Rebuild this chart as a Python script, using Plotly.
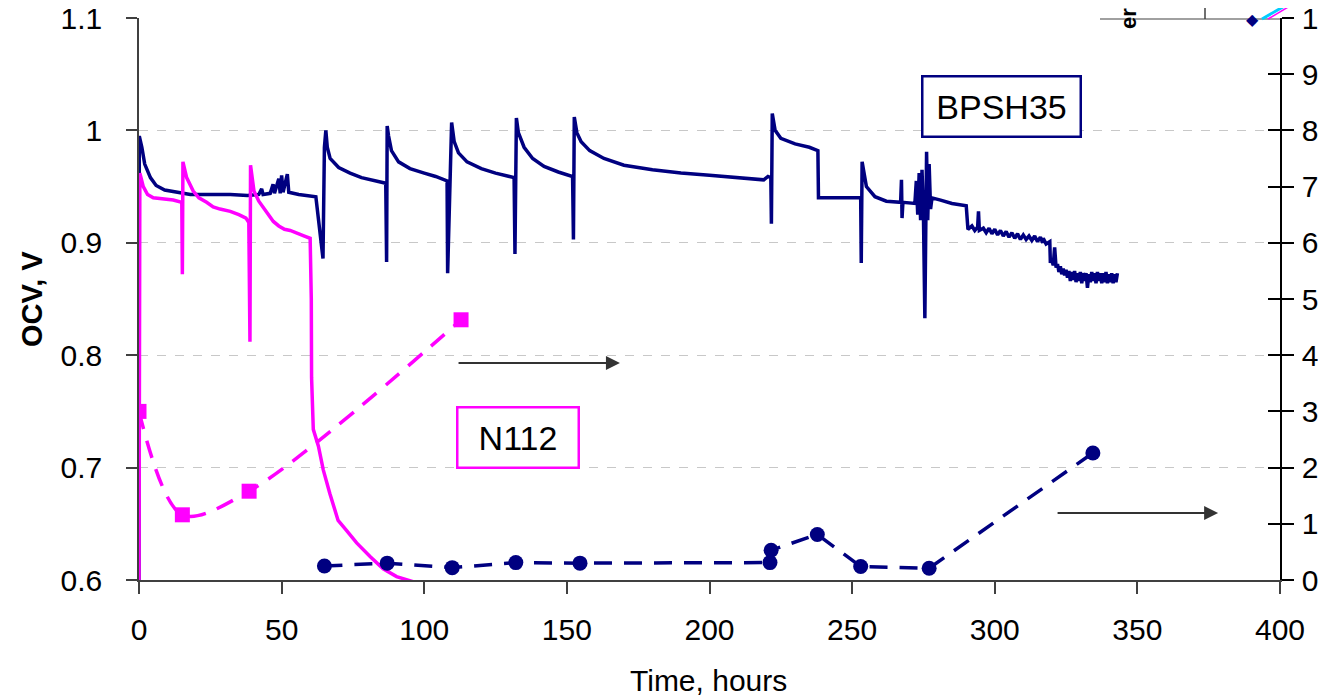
import plotly.graph_objects as go

# OCV trace, BPSH35 cell (hours, V)
bpsh_t = [0, 0.1, 1, 2, 4, 6, 9, 13, 18, 25, 32, 38, 42, 43, 43.5, 46, 47, 47.5, 49, 49.5,
          50, 50.5, 52, 52.5, 56, 62, 64.5, 65, 65.5, 66, 67, 70, 74, 78, 82, 86.5, 86.8, 87,
          87.5, 88.5, 91, 95, 100, 104, 108, 108.2, 109.6, 110.5, 112, 115, 120, 125, 131.5,
          131.8, 132.3, 133, 135, 138, 142, 147, 152, 152.3, 152.6, 153.5, 155, 158, 163, 170,
          180, 190, 200, 210, 219, 220.5, 221.5, 221.7, 222, 223, 225, 230, 235, 238, 238.2,
          245, 253, 253.2, 253.5, 255, 258, 262, 267, 267.3, 267.5, 267.8, 272, 272.5, 273,
          273.5, 274, 274.5, 275, 275.5, 276.1, 276.5, 277, 277.5, 278, 281, 285, 290, 290.6,
          292, 293, 294, 294.3, 294.6, 296, 297, 298, 299, 300, 301, 302, 303, 304, 305, 306,
          307, 308, 309, 310, 311, 312, 313, 314, 315, 316, 316.8, 317, 318, 319.3, 319.5,
          319.8, 320.5, 321, 321.5, 322, 322.5, 323, 323.5, 324, 324.5, 325, 325.5, 326, 326.5,
          327, 327.5, 328, 328.5, 329, 329.5, 330, 330.5, 331, 331.5, 332, 332.5, 333, 333.5,
          334, 334.5, 335, 335.5, 336, 336.5, 337, 337.5, 338, 338.5, 339, 339.5, 340, 340.5,
          341, 341.5, 342, 342.5, 343]
bpsh_v = [0.600, 0.995, 0.985, 0.970, 0.958, 0.951, 0.947, 0.945, 0.943, 0.943, 0.943, 0.942,
          0.943, 0.948, 0.943, 0.944, 0.952, 0.944, 0.957, 0.944, 0.960, 0.945, 0.961, 0.945,
          0.943, 0.941, 0.886, 0.985, 1.000, 0.985, 0.975, 0.967, 0.962, 0.958, 0.956, 0.953,
          0.883, 1.004, 0.995, 0.982, 0.972, 0.966, 0.962, 0.959, 0.955, 0.873, 1.007, 0.990,
          0.980, 0.972, 0.966, 0.962, 0.958, 0.890, 1.011, 0.998, 0.985, 0.975, 0.968, 0.963,
          0.959, 0.903, 1.012, 0.998, 0.990, 0.982, 0.975, 0.969, 0.965, 0.962, 0.960, 0.958,
          0.956, 0.959, 0.958, 0.917, 1.015, 1.000, 0.993, 0.988, 0.985, 0.982, 0.940, 0.940,
          0.940, 0.882, 0.972, 0.950, 0.941, 0.937, 0.936, 0.956, 0.922, 0.936, 0.935, 0.955,
          0.925, 0.962, 0.920, 0.965, 0.925, 0.833, 0.981, 0.920, 0.970, 0.930, 0.940, 0.938,
          0.935, 0.933, 0.912, 0.915, 0.911, 0.914, 0.928, 0.911, 0.913, 0.909, 0.913, 0.908,
          0.912, 0.907, 0.911, 0.906, 0.910, 0.905, 0.909, 0.904, 0.908, 0.903, 0.907, 0.903,
          0.906, 0.902, 0.906, 0.901, 0.905, 0.900, 0.904, 0.899, 0.901, 0.882, 0.886, 0.880,
          0.896, 0.878, 0.881, 0.874, 0.879, 0.872, 0.877, 0.871, 0.876, 0.869, 0.875, 0.866,
          0.874, 0.867, 0.875, 0.865, 0.873, 0.866, 0.874, 0.864, 0.873, 0.866, 0.873, 0.860,
          0.872, 0.865, 0.874, 0.866, 0.873, 0.864, 0.874, 0.866, 0.873, 0.864, 0.873, 0.865,
          0.874, 0.864, 0.872, 0.865, 0.873, 0.864, 0.872, 0.865, 0.873, 0.864, 0.872, 0.865,
          0.873, 0.864, 0.872, 0.866]

# OCV trace, N112 cell
n112_t = [0, 0.3, 1.5, 3, 5, 8.5, 12, 15, 15.2, 15.4, 16.7, 19, 21, 23.7, 26, 28.4, 32, 35,
          37.5, 38.5, 38.9, 39.1, 40.3, 42, 43.6, 45.5, 47.1, 49, 51, 53, 55.3, 58, 60, 60.4,
          60.5, 61.1, 62.9, 64.6, 66.9, 69.8, 72.8, 76.3, 81, 85.6, 90.3, 94, 98]
n112_v = [0.600, 0.962, 0.950, 0.943, 0.940, 0.939, 0.938, 0.936, 0.872, 0.972, 0.958, 0.946,
          0.940, 0.936, 0.932, 0.930, 0.928, 0.925, 0.922, 0.918, 0.812, 0.969, 0.946, 0.937,
          0.931, 0.925, 0.919, 0.915, 0.912, 0.911, 0.909, 0.906, 0.904, 0.850, 0.780, 0.734,
          0.719, 0.698, 0.677, 0.653, 0.644, 0.633, 0.621, 0.610, 0.603, 0.600, 0.597]

# right-axis series (markers)
n112_pts_t = [0, 15.2, 38.6, 112.9]
n112_pts_v = [3.0, 1.16, 1.58, 4.63]

bpsh_pts_t = [65, 87, 109.8, 132.1, 154.6, 221.2, 221.6, 237.8, 253, 277, 334.4]
bpsh_pts_v = [0.25, 0.30, 0.22, 0.31, 0.30, 0.31, 0.53, 0.81, 0.24, 0.21, 2.26]

NAVY = "#000080"
MAG = "#FF00FF"
FONT = "Liberation Sans, Arial, sans-serif"

fig = go.Figure()

fig.add_trace(go.Scatter(x=bpsh_pts_t, y=bpsh_pts_v, yaxis="y2", mode="lines+markers",
                         line=dict(color=NAVY, width=3.5, dash="18px,12px"),
                         marker=dict(symbol="circle", size=15, color=NAVY)))
fig.add_trace(go.Scatter(x=n112_pts_t, y=n112_pts_v, yaxis="y2", mode="lines+markers",
                         line=dict(color=MAG, width=3.5, dash="18px,12px", shape="spline", smoothing=0.9),
                         marker=dict(symbol="square", size=15, color=MAG)))
fig.add_trace(go.Scatter(x=bpsh_t, y=bpsh_v, mode="lines", line=dict(color=NAVY, width=3.5)))
fig.add_trace(go.Scatter(x=n112_t, y=n112_v, mode="lines", line=dict(color=MAG, width=3.5)))
fig.add_trace(go.Scatter(x=[], y=[], yaxis="y3"))

# the page body adds an 8px offset, so the figure is laid out 8px smaller
PW, PH = 1141, 562  # plot area in pixels
px_x = lambda p: (p - 139) / PW
px_y = lambda p: (580 - p) / PH

annotations = [
    dict(x=302.5, y=1.0213, xref="x", yref="y", text="BPSH35", showarrow=False,
         font=dict(size=34, color="black", family=FONT), bordercolor=NAVY, borderwidth=2.5,
         borderpad=1, width=154, height=56, bgcolor="white"),
    dict(x=133.0, y=0.7268, xref="x", yref="y", text="N112", showarrow=False,
         font=dict(size=34, color="black", family=FONT), bordercolor=MAG, borderwidth=2.5,
         borderpad=1, width=117, height=56, bgcolor="white"),
    dict(x=168.6, y=0.793, ax=111.5, ay=0.793, xref="x", yref="y", axref="x", ayref="y",
         text="", showarrow=True, arrowhead=2, arrowsize=1.4, arrowwidth=2, arrowcolor="#333333"),
    dict(x=378.3, y=0.6596, ax=321.5, ay=0.6596, xref="x", yref="y", axref="x", ayref="y",
         text="", showarrow=True, arrowhead=2, arrowsize=1.4, arrowwidth=2, arrowcolor="#333333"),
    dict(x=px_x(32), y=0.5, xref="paper", yref="paper", text="<b>OCV, V</b>", textangle=-90,
         showarrow=False, font=dict(size=29, color="black", family=FONT), xanchor="center"),
    dict(x=px_x(708), y=px_y(680), xref="paper", yref="paper", text="Time, hours",
         showarrow=False, font=dict(size=30, color="black", family=FONT), yanchor="middle"),
    # cropped legend fragment at the top edge
    dict(x=px_x(1143), y=px_y(6), xref="paper", yref="paper", text="<b>er</b>",
         textangle=-90, showarrow=False, font=dict(size=22, color="black", family=FONT)),
    dict(x=px_x(1261), y=px_y(8), xref="paper", yref="paper", text="◆",
         showarrow=False, font=dict(size=16, color=NAVY, family="DejaVu Sans")),
]

shapes = [
    dict(type="line", xref="paper", yref="paper", x0=px_x(1100), x1=1, y0=px_y(19), y1=px_y(19),
         line=dict(color="#808080", width=1.5)),
    dict(type="line", xref="paper", yref="paper", x0=px_x(1205), x1=px_x(1205), y0=px_y(19), y1=px_y(0),
         line=dict(color="#404040", width=1.5)),
    dict(type="line", xref="paper", yref="paper", x0=px_x(1262), x1=px_x(1295), y0=px_y(19), y1=px_y(0),
         line=dict(color="#00CCFF", width=3)),
    dict(type="line", xref="paper", yref="paper", x0=px_x(1268), x1=px_x(1300), y0=px_y(19), y1=px_y(0),
         line=dict(color=MAG, width=1.5)),
]

tickfont = dict(size=30, color="black", family=FONT)

fig.update_layout(
    width=1318, height=689,
    margin=dict(l=131, r=46, t=10, b=117, autoexpand=False),
    paper_bgcolor="white", plot_bgcolor="white",
    showlegend=False,
    font=dict(family=FONT),
    annotations=annotations,
    shapes=shapes,
    xaxis=dict(range=[0, 400], dtick=50, tick0=0, ticks="outside", ticklen=12, tickwidth=1.5,
               tickcolor="#404040", showline=True, linecolor="#404040", linewidth=1.5,
               showgrid=False, zeroline=False, tickfont=tickfont, ticklabelstandoff=10,
               ticklabeloverflow="allow"),
    yaxis=dict(range=[0.6, 1.1], dtick=0.1, tick0=0.6, ticks="outside", ticklen=11, tickwidth=1.5,
               tickcolor="#404040", showline=True, linecolor="#404040", linewidth=1.5,
               showgrid=True, gridcolor="#c8c8c8", griddash="dash", gridwidth=1,
               zeroline=False, tickfont=tickfont, ticklabelstandoff=18, ticklabeloverflow="allow"),
    yaxis2=dict(range=[0, 10], dtick=1, tick0=0, overlaying="y", side="right", anchor="x",
                ticks="outside", ticklen=12, tickwidth=1.5, tickcolor="black",
                showline=True, linecolor="black", linewidth=1.5, showgrid=False, zeroline=False,
                tickfont=tickfont, ticklabelstandoff=2, ticklabeloverflow="allow"),
    yaxis3=dict(range=[0, 10], dtick=1, tick0=0, overlaying="y", side="right", anchor="x",
                ticks="inside", ticklen=12, tickwidth=1.5, tickcolor="black",
                showticklabels=False, showline=False, showgrid=False, zeroline=False),
)

fig.write_html("out.html")
